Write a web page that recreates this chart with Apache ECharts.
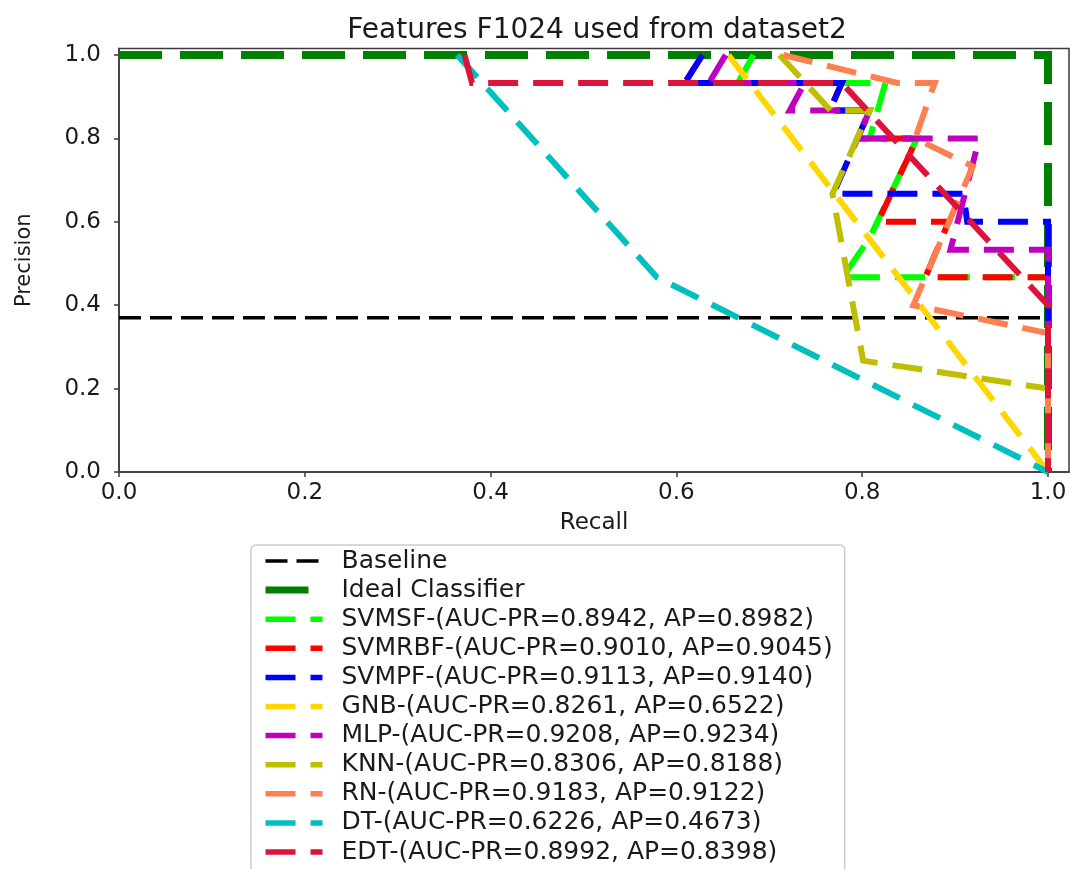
<!DOCTYPE html>
<html>
<head>
<meta charset="utf-8">
<script src="https://cdn.jsdelivr.net/npm/echarts@6/dist/echarts.min.js"></script>
<style>
html,body{margin:0;padding:0;background:#fff;}
#chart{width:1074px;height:869px;}
</style>
</head>
<body>
<div id="chart"></div>
<script>
// ---- data (x = Recall axis, y = Precision axis) ----
const xTicks = [0.0, 0.2, 0.4, 0.6, 0.8, 1.0];
const yTicks = [0.0, 0.2, 0.4, 0.6, 0.8, 1.0];

const seriesNames = [
  'Baseline',
  'Ideal Classifier',
  'SVMSF-(AUC-PR=0.8942, AP=0.8982)',
  'SVMRBF-(AUC-PR=0.9010, AP=0.9045)',
  'SVMPF-(AUC-PR=0.9113, AP=0.9140)',
  'GNB-(AUC-PR=0.8261, AP=0.6522)',
  'MLP-(AUC-PR=0.9208, AP=0.9234)',
  'KNN-(AUC-PR=0.8306, AP=0.8188)',
  'RN-(AUC-PR=0.9183, AP=0.9122)',
  'DT-(AUC-PR=0.6226, AP=0.4673)',
  'EDT-(AUC-PR=0.8992, AP=0.8398)'
];

const baselineX = [0.0, 1.0];
const baselineY = [0.37, 0.37];

const idealX = [0.0, 1.0, 1.0];
const idealY = [1.0, 1.0, 0.0];

const svmsfX = [0.683, 0.666, 0.825, 0.808, 0.859, 0.808, 0.779, 1.0, 1.0];
const svmsfY = [1.0, 0.933, 0.933, 0.8, 0.8, 0.561, 0.467, 0.467, 0.0];

const svmrbfX = [0.628, 0.609, 0.778, 0.765, 0.808, 0.795, 0.859, 0.817, 0.893, 0.868, 1.0, 1.0];
const svmrbfY = [1.0, 0.933, 0.933, 0.867, 0.867, 0.8, 0.8, 0.6, 0.6, 0.467, 0.467, 0.0];

const svmpfX = [0.628, 0.609, 0.778, 0.765, 0.808, 0.769, 0.909, 0.913, 1.0, 1.0];
const svmpfY = [1.0, 0.933, 0.933, 0.867, 0.867, 0.667, 0.667, 0.6, 0.6, 0.0];

const gnbX = [0.656, 1.0];
const gnbY = [1.0, 0.0];

const mlpX = [0.653, 0.635, 0.738, 0.722, 0.808, 0.795, 0.926, 0.895, 1.0, 1.0];
const mlpY = [1.0, 0.933, 0.933, 0.867, 0.867, 0.8, 0.8, 0.533, 0.533, 0.0];

const knnX = [0.711, 0.766, 0.808, 0.768, 0.801, 1.0, 1.0];
const knnY = [1.0, 0.867, 0.867, 0.667, 0.267, 0.2, 0.0];

const rnX = [0.715, 0.838, 0.878, 0.857, 0.919, 0.855, 1.0, 1.0];
const rnY = [1.0, 0.933, 0.933, 0.8, 0.733, 0.4, 0.333, 0.0];

const dtX = [0.364, 0.579, 1.0];
const dtY = [1.0, 0.467, 0.0];

const edtX = [0.372, 0.380, 0.778, 1.0, 1.0];
const edtY = [1.0, 0.933, 0.933, 0.4, 0.0];

// ---- build ----
function pairs(xs, ys) { return xs.map((x, i) => [x, ys[i]]); }

const curveData = [
  pairs(baselineX, baselineY),
  pairs(idealX, idealY),
  pairs(svmsfX, svmsfY),
  pairs(svmrbfX, svmrbfY),
  pairs(svmpfX, svmpfY),
  pairs(gnbX, gnbY),
  pairs(mlpX, mlpY),
  pairs(knnX, knnY),
  pairs(rnX, rnY),
  pairs(dtX, dtY),
  pairs(edtX, edtY)
];

const colors = ['#000000', '#008000', '#00ff00', '#ff0000', '#0000ff', '#ffd700',
                '#bf00bf', '#bfbf00', '#ff7f50', '#00bfbf', '#dc143c'];
const FONT = 'DejaVu Sans';

function styleFor(i) {
  if (i === 0) return { width: 3.5, dash: [22, 9] };
  if (i === 1) return { width: 8, dash: [43, 18] };
  return { width: 6, dash: [30, 15] };
}

const series = curveData.map((d, i) => {
  const s = styleFor(i);
  return {
    name: seriesNames[i],
    type: 'line',
    data: d,
    symbol: 'none',
    showSymbol: false,
    animation: false,
    silent: true,
    z: 2 + i,
    lineStyle: { color: colors[i], width: s.width, type: s.dash, cap: 'butt', join: 'miter' },
    itemStyle: { color: colors[i] }
  };
});

const legendData = seriesNames.map((n, i) => {
  const s = styleFor(i);
  return {
    name: n,
    itemStyle: { opacity: 0, color: 'transparent', borderWidth: 0 },
    lineStyle: { color: colors[i], width: i === 0 ? 3.5 : (i === 1 ? 7 : 5.5), type: s.dash, opacity: 1 }
  };
});

const chart = echarts.init(document.getElementById('chart'), null, { renderer: 'canvas' });
chart.setOption({
  animation: false,
  backgroundColor: '#ffffff',
  title: {
    text: 'Features F1024 used from dataset2',
    left: 592,
    textAlign: 'center',
    top: 12,
    textStyle: { fontFamily: FONT, fontSize: 28, fontWeight: 'normal', color: '#1a1a1a' }
  },
  grid: {
    left: 119, right: 5, top: 48.5, bottom: 397,
    show: true, borderColor: '#3a3a3a', borderWidth: 1.5, backgroundColor: 'transparent'
  },
  xAxis: {
    type: 'value', min: 0, max: 1.0226,
    name: 'Recall', nameLocation: 'middle', nameGap: 40,
    nameTextStyle: { fontFamily: FONT, fontSize: 23, color: '#1a1a1a' },
    axisLine: { show: true, onZero: false, lineStyle: { color: '#3a3a3a', width: 1.5 } },
    axisTick: { show: true, inside: false, length: 5, customValues: xTicks, lineStyle: { color: '#3a3a3a', width: 1.5 } },
    axisLabel: { customValues: xTicks, margin: 10, fontFamily: FONT, fontSize: 23, color: '#1a1a1a',
                 formatter: v => v.toFixed(1) },
    splitLine: { show: false }
  },
  yAxis: {
    type: 'value', min: 0, max: 1.0156,
    name: 'Precision', nameLocation: 'middle', nameGap: 84,
    nameTextStyle: { fontFamily: FONT, fontSize: 21, color: '#1a1a1a' },
    axisLine: { show: true, onZero: false, lineStyle: { color: '#3a3a3a', width: 1.5 } },
    axisTick: { show: true, inside: false, length: 5, customValues: yTicks, lineStyle: { color: '#3a3a3a', width: 1.5 } },
    axisLabel: { customValues: yTicks, margin: 18, fontFamily: FONT, fontSize: 23, color: '#1a1a1a',
                 formatter: v => v.toFixed(1) },
    splitLine: { show: false }
  },
  legend: {
    orient: 'vertical',
    left: 251, top: 545,
    height: 420,
    padding: [3.5, 12, 14, 11],
    borderColor: '#cccccc', borderWidth: 1.5, borderRadius: 5,
    backgroundColor: '#ffffff',
    itemWidth: 57, itemHeight: 14, itemGap: 4.1,
    selectedMode: false,
    textStyle: { fontFamily: FONT, fontSize: 25, lineHeight: 25, color: '#1a1a1a', padding: [0, 0, 0, 14] },
    data: legendData
  },
  series: series
});
</script>
</body>
</html>
